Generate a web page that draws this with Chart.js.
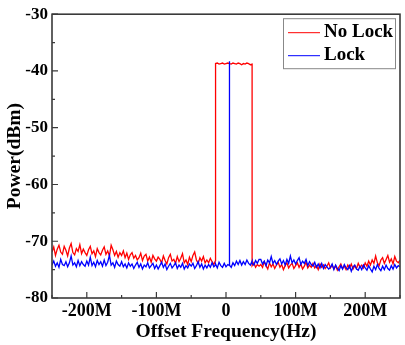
<!DOCTYPE html>
<html>
<head>
<meta charset="utf-8">
<script src="https://cdn.jsdelivr.net/npm/chart.js@4/dist/chart.umd.min.js"></script>
<style>
html, body { margin: 0; padding: 0; background: #fff; }
</style>
</head>
<body>
<canvas id="chart" width="405" height="345"></canvas>
<script>
// offset frequency in MHz (edges repeated so the steps are vertical)
const freqMHz = [
  -250, -247.5, -245, -242.5, -240, -237.5, -235, -232.5, -230, -227.5,
  -225, -222.5, -220, -217.5, -215, -212.5, -210, -207.5, -205, -202.5,
  -200, -197.5, -195, -192.5, -190, -187.5, -185, -182.5, -180, -177.5,
  -175, -172.5, -170, -167.5, -165, -162.5, -160, -157.5, -155, -152.5,
  -150, -147.5, -145, -142.5, -140, -137.5, -135, -132.5, -130, -127.5,
  -125, -122.5, -120, -117.5, -115, -112.5, -110, -107.5, -105, -102.5,
  -100, -97.5, -95, -92.5, -90, -87.5, -85, -82.5, -80, -77.5,
  -75, -72.5, -70, -67.5, -65, -62.5, -60, -57.5, -55, -52.5,
  -50, -47.5, -45, -42.5, -40, -37.5, -35, -32.5, -30, -27.5,
  -25, -22.5, -20, -17.5, -15, -15, -12.5, -10, -7.5, -5, -2.5,
  0, 2.5, 5, 5, 5, 7.5, 10, 12.5, 15, 17.5, 20, 22.5,
  25, 27.5, 30, 32.5, 35, 37.5, 37.5, 40, 42.5, 45, 47.5,
  50, 52.5, 55, 57.5, 60, 62.5, 65, 67.5, 70, 72.5,
  75, 77.5, 80, 82.5, 85, 87.5, 90, 92.5, 95, 97.5,
  100, 102.5, 105, 107.5, 110, 112.5, 115, 117.5, 120, 122.5,
  125, 127.5, 130, 132.5, 135, 137.5, 140, 142.5, 145, 147.5,
  150, 152.5, 155, 157.5, 160, 162.5, 165, 167.5, 170, 172.5,
  175, 177.5, 180, 182.5, 185, 187.5, 190, 192.5, 195, 197.5,
  200, 202.5, 205, 207.5, 210, 212.5, 215, 217.5, 220, 222.5,
  225, 227.5, 230, 232.5, 235, 237.5, 240, 242.5, 245, 247.5,
  250
];

// No Lock (red), dBm
const noLockPower = [
  -71.9, -71.0, -72.5, -71.4, -70.7, -71.9, -72.3, -70.9, -71.6, -72.6,
  -71.2, -70.4, -72.0, -72.4, -71.3, -71.8, -70.6, -72.2, -71.4, -72.0,
  -72.5, -71.5, -70.9, -72.2, -71.7, -72.7, -71.3, -72.0, -72.4, -71.6,
  -71.0, -72.3, -71.7, -72.6, -70.7, -71.5, -72.5, -71.8, -72.8, -72.0,
  -72.5, -71.7, -72.9, -72.1, -73.2, -72.4, -72.0, -73.0, -72.5, -73.3,
  -72.9, -72.1, -73.4, -72.6, -72.3, -73.5, -72.8, -73.7, -72.5, -73.1,
  -73.5, -72.8, -73.2, -73.8, -72.6, -73.4, -74.0, -72.9, -72.3, -73.5,
  -73.2, -73.9, -72.7, -73.6, -73.0, -72.2, -73.8, -73.3, -74.1, -72.8,
  -73.6, -72.5, -71.9, -73.3, -73.9, -72.9, -73.5, -72.7, -73.8, -73.3,
  -73.8, -73.0, -73.6, -74.1, -73.4, -38.7, -38.6, -38.8, -38.7, -38.6, -38.8,
  -38.7, -38.6, -38.7, -38.6, -38.7, -38.8, -38.6, -38.7, -38.8, -38.6, -38.7, -38.9,
  -38.7, -38.8, -38.6, -38.7, -38.9, -38.8, -74.3, -73.8, -74.6, -74.1, -74.4,
  -74.1, -74.6, -73.6, -74.3, -74.9, -73.8, -74.5, -74.0, -74.8, -74.2,
  -73.7, -74.6, -74.1, -75.0, -74.3, -73.8, -74.7, -74.2, -73.9, -74.8,
  -74.3, -73.8, -74.6, -74.0, -74.9, -74.4, -73.7, -74.7, -74.2, -74.6,
  -73.9, -74.7, -74.3, -75.0, -74.0, -74.6, -74.2, -74.8, -74.4, -73.8,
  -74.7, -74.2, -74.9, -74.3, -75.1, -74.5, -74.0, -74.8, -74.4, -75.0,
  -74.2, -74.7, -74.0, -74.9, -74.3, -74.8, -73.9, -74.6, -74.2, -74.7,
  -73.8, -74.4, -73.5, -74.2, -73.3, -73.9, -72.6, -73.8, -74.3, -73.3,
  -72.9, -73.9, -73.2, -72.5, -73.7, -73.1, -74.0, -72.7, -73.5, -73.8,
  -73.3
];

// Lock (blue), dBm
const lockPower = [
  -74.2, -73.5, -74.4, -73.8, -74.6, -73.2, -74.1, -74.3, -73.6, -74.5,
  -73.8, -72.6, -74.2, -73.8, -74.5, -73.4, -74.3, -73.6, -74.1, -74.4,
  -73.5, -74.2, -72.8, -74.3, -73.7, -74.5, -73.4, -74.1, -73.6, -74.4,
  -73.3, -74.3, -73.7, -72.5, -74.2, -73.8, -74.6, -73.5, -74.1, -74.4,
  -73.6, -74.5, -74.0, -74.7, -73.8, -74.4, -74.0, -74.8, -74.2, -73.7,
  -74.6, -74.0, -74.9, -74.2, -74.5, -73.8, -74.7, -74.3, -73.9, -74.8,
  -74.2, -74.9, -74.3, -73.7, -74.6, -74.0, -75.0, -74.4, -73.9, -74.7,
  -74.3, -73.8, -74.8, -74.2, -74.6, -73.9, -74.9, -74.3, -74.7, -74.0,
  -74.4, -73.9, -74.8, -74.3, -73.6, -74.6, -74.0, -74.9, -74.2, -74.7,
  -74.1, -74.6, -73.8, -74.5, -74.2, -74.0, -74.7, -73.7, -74.3, -74.6, -73.9,
  -74.5, -74.1, -74.3, -38.3, -74.2, -74.6, -73.8, -74.3, -73.5, -74.1, -73.4, -74.2,
  -73.6, -74.1, -73.3, -73.9, -74.2, -73.5, -73.9, -74.2, -73.4, -73.9, -73.2,
  -73.2, -74.0, -73.5, -74.3, -73.3, -73.8, -72.7, -73.9, -73.4, -74.1,
  -73.5, -73.1, -74.0, -73.4, -74.2, -73.2, -73.9, -72.6, -73.8, -73.3,
  -74.0, -73.4, -72.9, -74.1, -73.5, -73.9, -73.2, -74.3, -73.6, -74.1,
  -74.4, -73.7, -74.6, -74.0, -74.7, -73.9, -74.8, -74.1, -74.5, -74.9,
  -74.6, -74.0, -75.0, -74.2, -74.8, -75.2, -74.3, -74.9, -74.1, -74.7,
  -75.0, -74.3, -75.3, -74.5, -74.2, -74.9, -75.1, -74.4, -75.0, -74.2,
  -74.7, -75.1, -74.3, -74.9, -75.4, -74.4, -75.0, -74.1, -74.8, -75.2,
  -74.4, -75.0, -74.2, -74.8, -75.1, -74.3, -74.9, -74.1, -74.7, -74.3,
  -74.5
];

const seriesNames = ['No Lock', 'Lock'];
const xTickValues = [-200, -100, 0, 100, 200];
const xTickLabels = ['-200M', '-100M', '0', '100M', '200M'];
const xMinorTicks = [-250, -150, -50, 50, 150, 250];
const yTickValues = [-80, -70, -60, -50, -40, -30];
const yMinorTicks = [-75, -65, -55, -45, -35];

const serif = 'Liberation Serif, Times New Roman, serif';

// frame, inward ticks and the boxed legend
const framePlugin = {
  id: 'framePlugin',
  afterDatasetsDraw(chart) {
    const ctx = chart.ctx;
    const a = chart.chartArea;
    const xs = chart.scales.x, ys = chart.scales.y;
    ctx.save();
    ctx.strokeStyle = '#3a3a3a';
    ctx.lineWidth = 1.6;
    ctx.strokeRect(a.left, a.top, a.right - a.left, a.bottom - a.top);

    ctx.lineWidth = 1.2;
    ctx.beginPath();
    xTickValues.forEach(function (v) {
      const p = xs.getPixelForValue(v);
      ctx.moveTo(p, a.bottom); ctx.lineTo(p, a.bottom - 6);
    });
    xMinorTicks.forEach(function (v) {
      const p = xs.getPixelForValue(v);
      ctx.moveTo(p, a.bottom); ctx.lineTo(p, a.bottom - 3);
    });
    yTickValues.forEach(function (v) {
      const p = ys.getPixelForValue(v);
      ctx.moveTo(a.left, p); ctx.lineTo(a.left + 6, p);
    });
    yMinorTicks.forEach(function (v) {
      const p = ys.getPixelForValue(v);
      ctx.moveTo(a.left, p); ctx.lineTo(a.left + 3, p);
    });
    ctx.stroke();

    // legend
    const bx = a.right - 117, by = a.top + 4;
    ctx.fillStyle = '#fff';
    ctx.fillRect(bx, by, 112, 50);
    ctx.strokeStyle = '#888';
    ctx.lineWidth = 1;
    ctx.strokeRect(bx + 0.5, by + 0.5, 112, 50);
    const colors = ['#ff0000', '#0000ff'];
    ctx.font = 'bold 19px ' + serif;
    ctx.textBaseline = 'middle';
    seriesNames.forEach(function (name, i) {
      const y = by + 14 + i * 23;
      ctx.strokeStyle = colors[i];
      ctx.lineWidth = 1;
      ctx.beginPath();
      ctx.moveTo(bx + 5, y + 0.5); ctx.lineTo(bx + 37, y + 0.5);
      ctx.stroke();
      ctx.fillStyle = '#000';
      ctx.fillText(name, bx + 41, y);
    });
    ctx.restore();
  }
};

const ctx = document.getElementById('chart').getContext('2d');
const myChart = new Chart(ctx, {
  type: 'line',
  data: {
    datasets: [
      {
        label: seriesNames[0],
        data: noLockPower.map(function (p, i) { return { x: freqMHz[i], y: p }; }),
        borderColor: '#ff0000',
        borderWidth: 1.3,
        pointRadius: 0,
        fill: false,
        order: 1
      },
      {
        label: seriesNames[1],
        data: lockPower.map(function (p, i) { return { x: freqMHz[i], y: p }; }),
        borderColor: '#0000ff',
        borderWidth: 1.3,
        pointRadius: 0,
        fill: false,
        order: 0
      }
    ]
  },
  options: {
    responsive: false,
    animation: false,
    layout: { padding: { top: 13, right: 5, left: 0, bottom: 0 } },
    plugins: { legend: { display: false }, tooltip: { enabled: false } },
    scales: {
      x: {
        type: 'linear',
        min: -250,
        max: 250,
        grid: { display: false, drawTicks: false },
        border: { display: false },
        afterBuildTicks: function (s) { s.ticks = xTickValues.map(function (v) { return { value: v }; }); },
        afterFit: function (s) { s.height = 47; },
        ticks: {
          font: { family: serif, size: 18, weight: 'bold' }, color: '#000', padding: 3, maxRotation: 0, autoSkip: false,
          callback: function (v, i) { return xTickLabels[i]; }
        },
        title: { display: true, text: 'Offset Frequency(Hz)', font: { family: serif, size: 19.5, weight: 'bold' }, color: '#000', padding: { top: 0, bottom: 1 } }
      },
      y: {
        min: -80,
        max: -30,
        grid: { display: false, drawTicks: false },
        border: { display: false },
        afterBuildTicks: function (s) { s.ticks = yTickValues.map(function (v) { return { value: v }; }); },
        afterFit: function (s) { s.width = 52; },
        ticks: { font: { family: serif, size: 17, weight: 'bold' }, color: '#000', padding: 4 },
        title: { display: true, text: 'Power(dBm)', font: { family: serif, size: 19.5, weight: 'bold' }, color: '#000', padding: { top: 3, bottom: 0 } }
      }
    }
  },
  plugins: [framePlugin]
});
</script>
</body>
</html>
